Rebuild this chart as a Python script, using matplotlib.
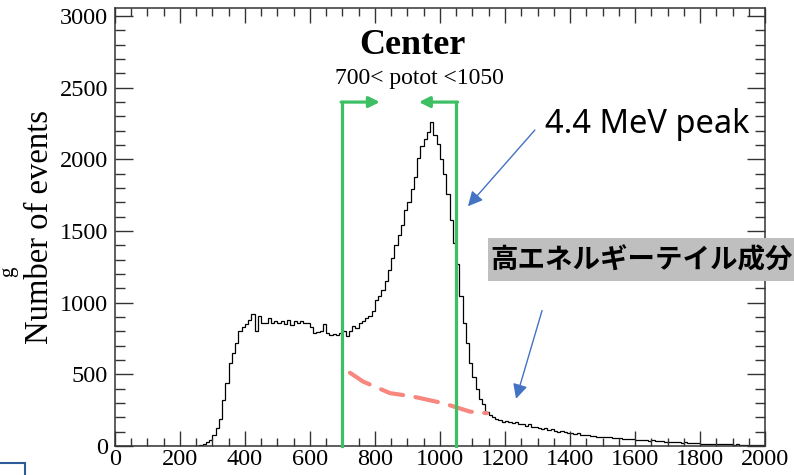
import numpy as np
import matplotlib
matplotlib.use("Agg")
import matplotlib.pyplot as plt
from matplotlib.patches import Rectangle
from matplotlib.ticker import MultipleLocator

# histogram: 10-unit bins from 0 to 2000
bin_edges = np.arange(0, 2001, 10)
counts = [
    0, 0, 0, 0, 0, 0, 0, 0, 0, 0,
    0, 0, 0, 0, 0, 0, 0, 0, 0, 0,
    0, 0, 0, 0, 0, 2, 5, 12, 25, 45,
    80, 125, 190, 320, 440, 580, 650, 720, 800, 830,
    850, 880, 920, 800, 910, 860, 855, 890, 860, 870,
    855, 870, 850, 880, 845, 870, 860, 875, 855, 860,
    830, 790, 795, 800, 850, 785, 775, 780, 775, 790,
    800, 770, 800, 835, 820, 860, 875, 890, 905, 940,
    1020, 1050, 1090, 1150, 1230, 1310, 1400, 1470, 1540, 1650,
    1700, 1790, 1880, 2010, 2090, 2140, 2190, 2260, 2170, 2110,
    2000, 1900, 1760, 1580, 1420, 1270, 1050, 860, 720, 580,
    480, 400, 330, 290, 240, 215, 200, 185, 180, 170,
    175, 165, 160, 170, 150, 155, 140, 150, 135, 130,
    125, 120, 128, 112, 118, 105, 100, 102, 95, 92,
    90, 85, 88, 80, 76, 78, 70, 72, 66, 64,
    62, 60, 63, 56, 55, 57, 50, 48, 50, 46,
    44, 42, 45, 40, 38, 40, 35, 33, 32, 30,
    30, 28, 27, 26, 24, 25, 22, 20, 20, 18,
    16, 15, 17, 14, 13, 14, 12, 12, 11, 12,
    10, 11, 9, 10, 9, 8, 10, 8, 7, 8,
]

# hand-drawn high energy tail sketch
tail_x = [723, 763, 846, 917, 1009, 1092, 1144]
tail_y = [511, 450, 369, 345, 299, 240, 229]

# potot cut window
cut_lo, cut_hi = 700, 1050
cut_top = 2400

green = "#3CC063"
blue = "#4472C4"

fig = plt.figure(figsize=(7.94, 4.75), dpi=100)
ax = fig.add_axes([0.1448, 0.0611, 0.8187, 0.9231])

ax.stairs(counts, bin_edges, color="black", lw=0.9)

ax.plot(tail_x, tail_y, color="#F7877F", lw=3.0, linestyle=(0, (5.5, 3)),
        solid_capstyle="round", dash_capstyle="round", zorder=3)

# cut lines and arrows
for xc in (cut_lo, cut_hi):
    ax.plot([xc, xc], [0, cut_top], color=green, lw=2.3, zorder=4, clip_on=False)
ax.annotate("", xy=(815, cut_top), xytext=(cut_lo - 4, cut_top),
            arrowprops=dict(arrowstyle="-|>", color=green, lw=2.3,
                            mutation_scale=16, shrinkA=0, shrinkB=0), zorder=4)
ax.annotate("", xy=(935, cut_top), xytext=(cut_hi + 4, cut_top),
            arrowprops=dict(arrowstyle="-|>", color=green, lw=2.3,
                            mutation_scale=16, shrinkA=0, shrinkB=0), zorder=4)

ax.set_xlim(0, 2000)
ax.set_ylim(0, 3060)
ax.xaxis.set_major_locator(MultipleLocator(200))
ax.xaxis.set_minor_locator(MultipleLocator(50))
ax.yaxis.set_major_locator(MultipleLocator(500))
ax.yaxis.set_minor_locator(MultipleLocator(100))

serif = "Liberation Serif"
ax.tick_params(which="both", direction="in", top=True, right=True,
               color="#333333", width=1.0)
ax.tick_params(axis="x", which="major", length=11, pad=2)
ax.tick_params(axis="x", which="minor", length=6)
ax.tick_params(axis="y", which="major", length=13, pad=5)
ax.tick_params(axis="y", which="minor", length=7)
for lab in ax.get_xticklabels() + ax.get_yticklabels():
    lab.set_fontfamily(serif)
    lab.set_fontsize(17.5)
for sp in ax.spines.values():
    sp.set_color("#333333")
    sp.set_linewidth(1.1)

ax.set_ylabel("Number of events", fontfamily=serif, fontsize=23.5)
ax.yaxis.set_label_coords(-0.092, 0.5)

ax.text(0.458, 0.914, "Center", transform=ax.transAxes, ha="center", va="center",
        fontfamily=serif, fontweight="bold", fontsize=26)
ax.text(0.468, 0.839, "700< potot <1050", transform=ax.transAxes, ha="center",
        va="center", fontfamily=serif, fontsize=17)

# annotations
ax.text(1323, 2247, "4.4 MeV peak", ha="left", va="center", fontfamily="Noto Sans",
        fontsize=23.5, clip_on=False, zorder=6)
ax.annotate("", xy=(1086, 1673), xytext=(1292, 2205),
            arrowprops=dict(arrowstyle="-|>", color=blue, lw=1.0,
                            mutation_scale=22, shrinkA=0, shrinkB=0))
ax.annotate("", xy=(1234, 329), xytext=(1314, 945),
            arrowprops=dict(arrowstyle="-|>", color=blue, lw=1.0,
                            mutation_scale=22, shrinkA=0, shrinkB=0))

fig.add_artist(Rectangle((488 / 794, 1 - 281 / 475), 320 / 794, 43 / 475,
                         transform=fig.transFigure, facecolor="#BFBFBF",
                         edgecolor="none", zorder=5))
fig.text(490 / 794, 1 - 260 / 475, "高エネルギーテイル成分", ha="left", va="center",
         fontfamily=["Noto Sans CJK JP", "DejaVu Sans"], fontweight="bold",
         fontsize=19.8, zorder=6)

# cut-off bits at the left edge of the slide
fig.text(9 / 794, 1 - 272 / 475, "g", rotation=90, ha="center", va="center",
         fontfamily=serif, fontsize=15)
fig.add_artist(Rectangle((-0.01, -0.02), 33 / 794, 0.045, transform=fig.transFigure,
                         facecolor="none", edgecolor="#2E5C9A", lw=1.5))

fig.savefig("out.png", dpi=100)
